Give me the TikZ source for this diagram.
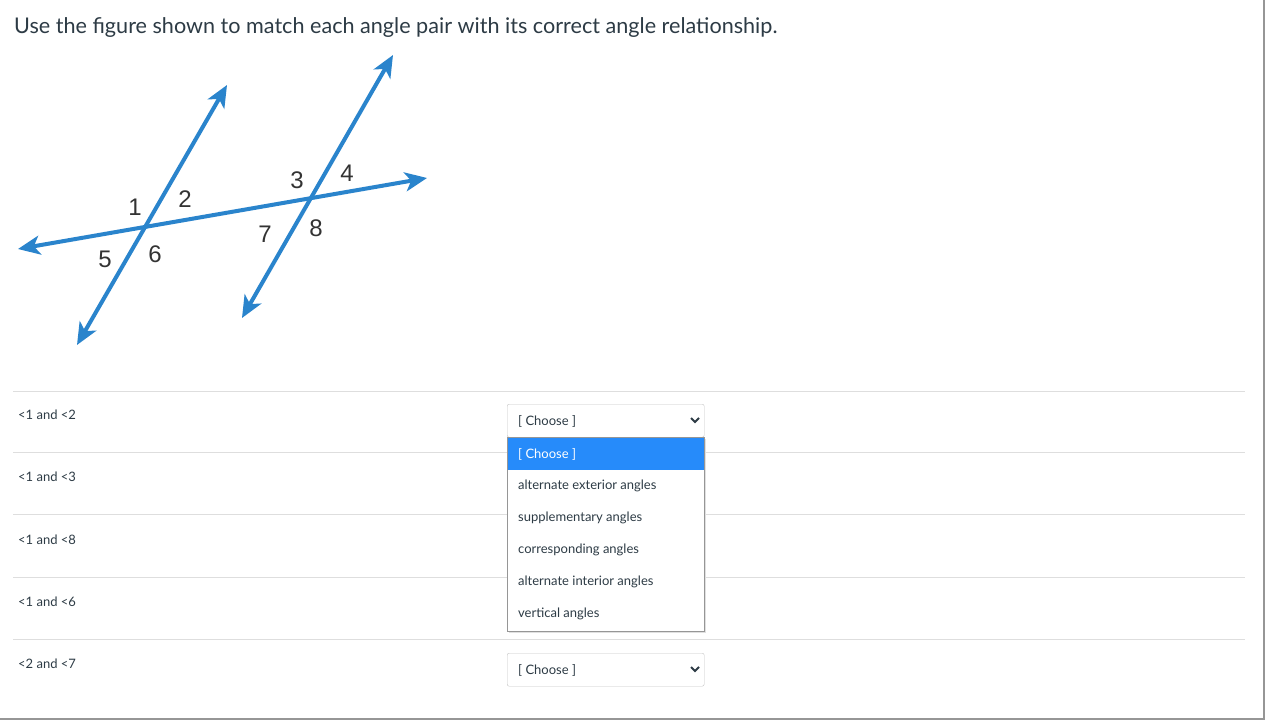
\documentclass[tikz,border=0pt]{standalone}
\usepackage{fontspec}
\setmainfont{Lato}
\newfontfamily\figfont{Liberation Sans}
\usepackage{tikz}
\usetikzlibrary{positioning}
\usetikzlibrary{arrows.meta}
\definecolor{lineblue}{RGB}{42,132,204}
\definecolor{selblue}{RGB}{38,139,250}
\definecolor{canvastext}{RGB}{45,59,69}
\definecolor{rulegray}{RGB}{222,222,222}
\definecolor{boxgray}{RGB}{196,196,196}
\definecolor{framegray}{RGB}{150,150,150}
\tikzset{
  figline/.style={draw=lineblue, line width=4pt, {Stealth[length=22pt,width=19pt,inset=6pt]}-{Stealth[length=22pt,width=19pt,inset=6pt]}},
  anglelabel/.style={font=\figfont\fontsize{24}{24}\selectfont, text=black!80, inner sep=0pt},
  rowlabel/.style={anchor=west, font=\fontsize{13}{13}\selectfont, text=canvastext, inner sep=0pt},
  choosebox/.style={draw=boxgray, fill=white, rounded corners=2pt, minimum width=197pt, minimum height=33pt, anchor=north west, inner sep=0pt},
  optiontext/.style={anchor=west, font=\fontsize{13}{13}\selectfont, text=canvastext, inner sep=0pt},
  rowrule/.style={draw=rulegray, line width=1pt},
}
\begin{document}
\begin{tikzpicture}[x=1pt,y=-1pt]
		\useasboundingbox (0,0) rectangle (1270,722);
		\fill[white] (0,0) rectangle (1270,722);
		% page frame
		\draw[framegray, line width=1.2pt] (1264,0) -- (1264,719) -- (0,719);
		% question
		\node[anchor=west, inner sep=0pt, text=canvastext, font=\fontsize{21.6}{22}\selectfont] (Q) at (14,28) {Use the figure shown to match each angle pair with its correct angle relationship.};
		% figure
		\coordinate (P) at (143,228);
		\coordinate (R) at (308,197);
		\coordinate (L1) at (18,249);
		\coordinate (L2) at (427,178);
		\coordinate (A1) at (77,345);
		\coordinate (A2) at (227,85);
		\coordinate (B1) at (242,318);
		\coordinate (B2) at (393,55);
		\path [figline] (L1) -- (L2);
		\path [figline] (A1) -- (A2);
		\path [figline] (B1) -- (B2);
		\node[anglelabel] (n1) at (135,207) {1};
		\node[anglelabel] (n2) at (185,199) {2};
		\node[anglelabel] (n5) at (105,259) {5};
		\node[anglelabel] (n6) at (155,254) {6};
		\node[anglelabel] (n3) at (297,180) {3};
		\node[anglelabel] (n4) at (347,173) {4};
		\node[anglelabel] (n7) at (265,234) {7};
		\node[anglelabel] (n8) at (316,228) {8};
		% rows
		\foreach \y in {391,452,514,577,639}
			\draw[rowrule] (13,\y) -- (1245,\y);
		\node[rowlabel] (r1) at (18,415) {<1 and <2};
		\node[rowlabel] (r2) at (18,477) {<1 and <3};
		\node[rowlabel] (r3) at (18,540) {<1 and <8};
		\node[rowlabel] (r4) at (18,602) {<1 and <6};
		\node[rowlabel] (r5) at (18,664) {<2 and <7};
		% select boxes
		\node[choosebox] (S1) at (507,404) {};
		\node[optiontext] (S1t) at (518,421) {[ Choose ]};
		\draw[canvastext, line width=1.8pt] (691,418) -- (695,422) -- (699,418);
		\node[choosebox] (S5) at (507,653) {};
		\node[optiontext] (S5t) at (518,670) {[ Choose ]};
		\draw[canvastext, line width=1.8pt] (691,667) -- (695,671) -- (699,667);
		% open list
		\fill[black!12] (509,439) rectangle (706,633);
		\node[draw=framegray, fill=white, minimum width=197pt, minimum height=194pt, anchor=north west, inner sep=0pt] (D) at (507,437) {};
		\fill[selblue] (508,438) rectangle (704,470);
		\node[optiontext, text=white] (o0) at (518,454) {[ Choose ]};
		\node[optiontext] (o1) at (518,486) {alternate exterior angles};
		\node[optiontext] (o2) at (518,518) {supplementary angles};
		\node[optiontext] (o3) at (518,550) {corresponding angles};
		\node[optiontext] (o4) at (518,582) {alternate interior angles};
		\node[optiontext] (o5) at (518,614) {vertical angles};
	\end{tikzpicture}
\end{document}
